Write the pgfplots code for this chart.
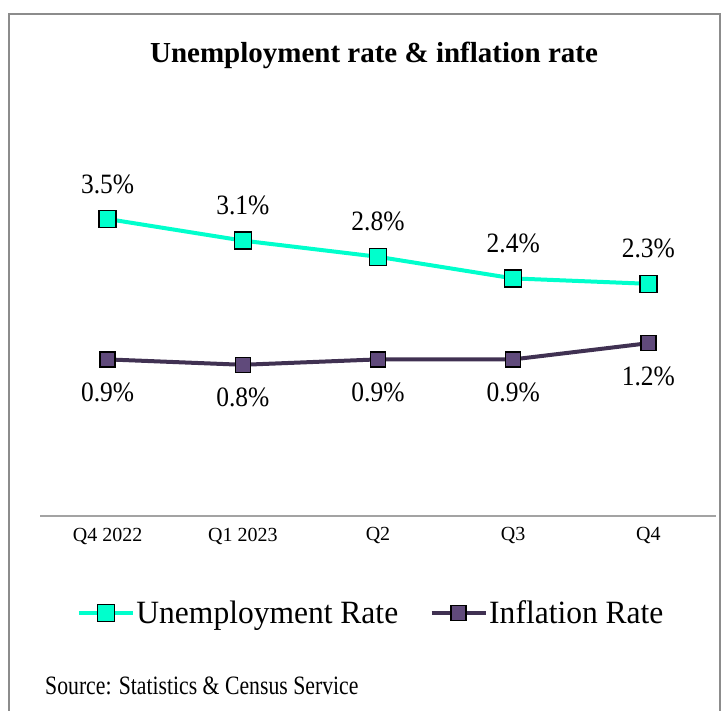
\documentclass[border=0pt]{standalone}
\usepackage{pgfplots}
\pgfplotsset{compat=1.18}
\usepackage{fontspec}
\setmainfont{Liberation Serif}
\newfontfamily\labfont{Liberation Serif}[FakeStretch=0.91]
\newfontfamily\legfont{Liberation Serif}[FakeStretch=0.97]
\newfontfamily\srcfont{Liberation Serif}[FakeStretch=0.82]
\definecolor{unemp}{HTML}{00FFCC}
\definecolor{inflfill}{HTML}{604A7B}
\definecolor{infl}{HTML}{403152}
\definecolor{frame}{HTML}{8C8C8C}
\begin{document}
\begin{tikzpicture}
\useasboundingbox (0bp,0bp) rectangle (722bp,711bp);
\draw[frame, line width=2bp] (9bp,-2bp) -- (9bp,697bp) -- (720bp,697bp) -- (720bp,-2bp);
\node[font=\fontsize{29bp}{34bp}\selectfont\bfseries, anchor=base, inner sep=0pt] at (374bp,648bp) {Unemployment rate \& inflation rate};
\node[font=\srcfont\fontsize{26.5bp}{30bp}\selectfont, anchor=base west, inner sep=0pt] at (45bp,17bp) {Source: Statistics \& Census Service};
\begin{axis}[
	at={(40bp,195bp)}, anchor=south west,
	scale only axis,
	width=676bp, height=378bp,
	xmin=-0.5, xmax=4.5,
	ymin=-2, ymax=5,
	axis x line*=bottom,
	axis y line=none,
	x axis line style={draw=frame!80, line width=1.5bp, -},
	xtick={0,1,2,3,4},
	xticklabels={Q4 2022,Q1 2023,Q2,Q3,Q4},
	major tick length=0pt,
	xticklabel style={font=\fontsize{20bp}{24bp}\selectfont, anchor=center, yshift=-20bp},
	/pgf/number format/assume math mode=true,
	clip=false,
	point meta=explicit symbolic,
	nodes near coords,
	legend style={at={(0.4896,-0.2566)}, anchor=center, draw=none, fill=none,
		legend columns=2, font=\legfont\fontsize{32.5bp}{36bp}\selectfont,
		/tikz/every even column/.append style={column sep=30bp},
		nodes={inner sep=1.5bp}},
	legend image code/.code={\draw[mark repeat=2,mark phase=2] plot coordinates {(0bp,0bp)(27bp,0bp)(54bp,0bp)};},
]
\addplot[unemp, line width=4bp, mark=square*, mark size=8.5bp,
	mark options={fill=unemp, draw=black, line width=1.5bp},
	every node near coord/.append style={black, font=\labfont\fontsize{28bp}{32bp}\selectfont, anchor=center, yshift=35bp}]
coordinates {
	(0,3.5) [3.5\%]
	(1,3.1) [3.1\%]
	(2,2.8) [2.8\%]
	(3,2.4) [2.4\%]
	(4,2.3) [2.3\%]
};
\addlegendentry{Unemployment Rate}
\addplot[infl, line width=4bp, mark=square*, mark size=7.5bp,
	mark options={fill=inflfill, draw=black, line width=1.5bp},
	every node near coord/.append style={black, font=\labfont\fontsize{28bp}{32bp}\selectfont, anchor=center, yshift=-33bp}]
coordinates {
	(0,0.9) [0.9\%]
	(1,0.8) [0.8\%]
	(2,0.9) [0.9\%]
	(3,0.9) [0.9\%]
	(4,1.2) [1.2\%]
};
\addlegendentry{Inflation Rate}
\end{axis}
\end{tikzpicture}
\end{document}
